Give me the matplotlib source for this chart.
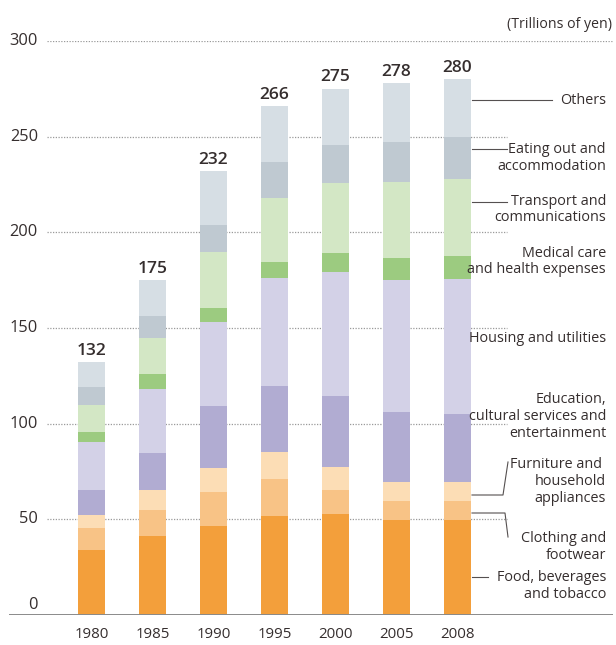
import numpy as np
import matplotlib
matplotlib.use("Agg")
import matplotlib.pyplot as plt

plt.rcParams['font.family'] = ['Open Sans', 'DejaVu Sans']

years = ["1980", "1985", "1990", "1995", "2000", "2005", "2008"]
totals = [132, 175, 232, 266, 275, 278, 280]

# segment sizes (trillions of yen), bottom to top
food      = [34.0, 41.3, 46.5, 51.8, 52.8, 49.7, 49.7]
clothing  = [11.5, 13.6, 17.8, 19.3, 12.5, 9.9, 9.9]
furniture = [6.8, 10.4, 12.5, 14.1, 12.1, 9.9, 9.9]
education = [13.0, 19.4, 32.5, 34.5, 37.1, 36.6, 35.6]
housing   = [25.1, 33.4, 43.9, 56.5, 64.8, 69.0, 70.5]
medical   = [5.3, 7.9, 7.4, 8.3, 9.9, 11.5, 12.1]
transport = [14.1, 18.8, 29.2, 33.5, 36.6, 39.7, 40.2]
eating    = [9.4, 11.5, 14.1, 18.8, 19.9, 21.0, 22.0]

labels = ["Food, beverages\nand tobacco", "Clothing and\nfootwear",
          "Furniture and \nhousehold\nappliances",
          "Education,\ncultural services and\nentertainment",
          "Housing and utilities", "Medical care\nand health expenses",
          "Transport and\ncommunications", "Eating out and\naccommodation", "Others"]
colors = ["#f39f3b", "#f8c386", "#fcddb5", "#b1acd2", "#d3d1e7",
          "#9ccb80", "#d3e7c5", "#bfc9d1", "#d6dee4"]

segs = [food, clothing, furniture, education, housing, medical, transport, eating]
others = [t - sum(s[i] for s in segs) for i, t in enumerate(totals)]
segs.append(others)

W, H = 616, 645
fig = plt.figure(figsize=(W / 100, H / 100), dpi=100)
# y: 0 at pixel 615, 300 at pixel 41 ; x: bar centers 91.5 + 61*i
ax = fig.add_axes([0, (H - 615) / H, 1, 574 / H])
ax.set_ylim(0, 300)
ax.set_xlim(-91.5 / 61, (W - 91.5) / 61)
ax.axis("off")

def px_x(p):
    return (p - 91.5) / 61

def px_y(p):
    return (615 - p) * 300 / 574

txt = "#352e2e"
x = np.arange(len(years))

# gridlines
for v in [50, 100, 150, 200, 250]:
    ax.hlines(v, px_x(47), px_x(507), colors="#9a9a9a", linestyles=(0, (1, 1.2)), lw=0.9, zorder=0)
ax.hlines(300, px_x(47), px_x(612), colors="#9a9a9a", linestyles=(0, (1, 1.2)), lw=0.9, zorder=0)
ax.hlines(0, px_x(9), px_x(613), colors="#8a8a8a", lw=1.4, zorder=3)

for v in [0, 50, 100, 150, 200, 250, 300]:
    yy = v if v else px_y(605)
    ax.text(px_x(38), yy, str(v), ha="right", va="center", fontsize=11.8, color=txt)

bottom = np.zeros(len(years))
for s, c in zip(segs, colors):
    ax.bar(x, s, width=27 / 61, bottom=bottom, color=c, zorder=2)
    bottom += np.array(s)

for i, t in enumerate(totals):
    ax.text(x[i], t + 1.8, str(t), ha="center", va="bottom", fontsize=12.5,
            fontweight="semibold", color=txt)
    ax.text(x[i], px_y(634), years[i], ha="center", va="center", fontsize=10.8, color=txt)

fig.text(612 / W, 1 - 25 / H, "(Trillions of yen)", ha="right", va="center",
         fontsize=10.2, color=txt)

# legend labels on the right
lx = px_x(606)
label_y = [586, 547, 481.5, 416.5, 339, 261.5, 209.5, 158, 100]
for lab, py in zip(labels, label_y):
    ax.text(lx, px_y(py), lab, ha="right", va="center", fontsize=10.4,
            color=txt, linespacing=1.15)

bx = px_x(472)
lc = "#555050"
ax.plot([bx, px_x(552)], [px_y(100)] * 2, color=lc, lw=0.8)
ax.plot([bx, px_x(507)], [px_y(149)] * 2, color=lc, lw=0.8)
ax.plot([bx, px_x(507)], [px_y(202)] * 2, color=lc, lw=0.8)
ax.plot([bx, px_x(503), px_x(508)], [px_y(495), px_y(495), px_y(462)], color=lc, lw=0.8)
ax.plot([bx, px_x(505), px_x(508)], [px_y(513), px_y(513), px_y(537)], color=lc, lw=0.8)
ax.plot([bx, px_x(488)], [px_y(577)] * 2, color=lc, lw=0.8)

fig.savefig("out.png", dpi=100)
